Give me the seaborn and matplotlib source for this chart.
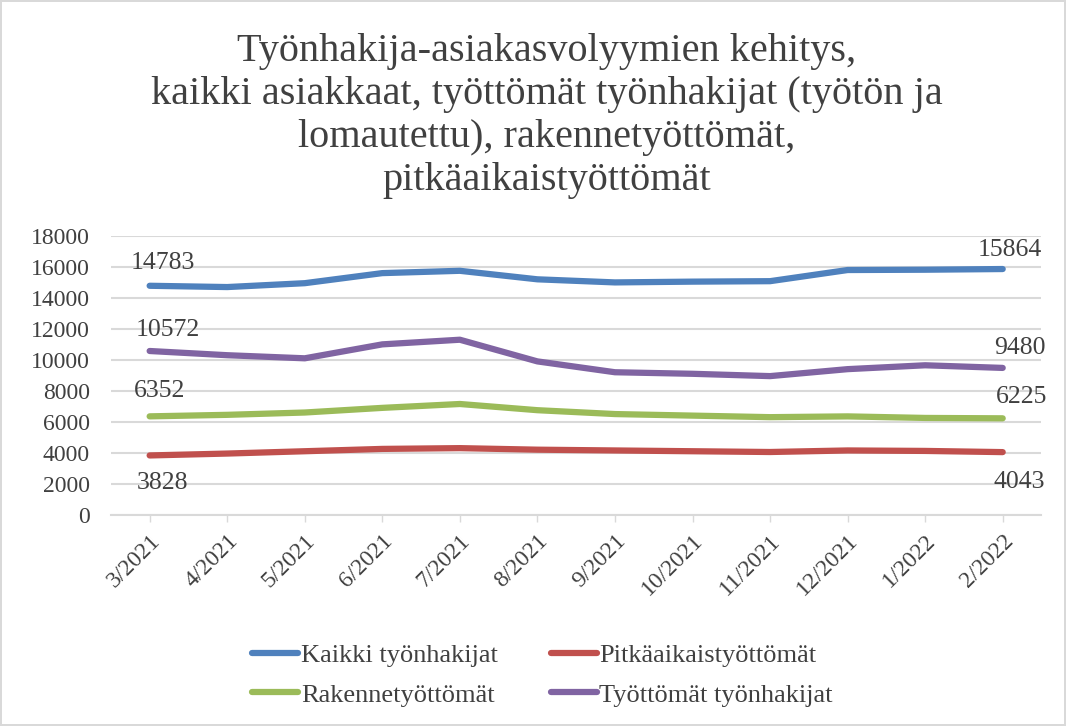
import seaborn as sns
import matplotlib.pyplot as plt
import pandas as pd

months = ['3/2021', '4/2021', '5/2021', '6/2021', '7/2021', '8/2021',
          '9/2021', '10/2021', '11/2021', '12/2021', '1/2022', '2/2022']

kaikki = [14783, 14700, 14950, 15600, 15750, 15200, 15000, 15050, 15080, 15800, 15820, 15864]
pitka = [3828, 3950, 4100, 4250, 4300, 4200, 4150, 4100, 4050, 4150, 4120, 4043]
rakenne = [6352, 6450, 6600, 6900, 7150, 6750, 6500, 6400, 6300, 6350, 6250, 6225]
tyottomat = [10572, 10300, 10100, 11000, 11300, 9900, 9200, 9100, 8950, 9400, 9650, 9480]

series = {
    'Kaikki työnhakijat': kaikki,
    'Pitkäaikaistyöttömät': pitka,
    'Rakennetyöttömät': rakenne,
    'Työttömät työnhakijat': tyottomat,
}
colors = {
    'Kaikki työnhakijat': '#4F81BD',
    'Pitkäaikaistyöttömät': '#C0504D',
    'Rakennetyöttömät': '#9BBB59',
    'Työttömät työnhakijat': '#8064A2',
}

rows = []
for name, vals in series.items():
    for i, (m, v) in enumerate(zip(months, vals)):
        rows.append({'idx': i, 'kk': m, 'sarja': name, 'arvo': v})
df = pd.DataFrame(rows)

sns.set_theme(style='white')
plt.rcParams['font.family'] = ['Liberation Serif', 'DejaVu Serif']
txt = '#404040'

fig = plt.figure(figsize=(10.66, 7.26), dpi=100)
fig.patch.set_edgecolor('#D9D9D9')
fig.patch.set_linewidth(1.5)
ax = fig.add_axes([0.104, 0.291, 0.873, 0.384])

sns.lineplot(data=df, x='idx', y='arvo', hue='sarja', palette=colors,
             linewidth=4.5, ax=ax, legend=False, solid_capstyle='round')

ax.set_xlim(-0.5, len(months) - 0.5)
ax.set_ylim(0, 18000)
ax.set_yticks(range(0, 18001, 2000))
ax.set_xticks(range(len(months)))
ax.set_xticklabels(months, rotation=45, ha='right', rotation_mode='anchor')
ax.tick_params(axis='y', labelsize=17, colors=txt, length=0, pad=15)
ax.tick_params(axis='x', labelsize=17, colors=txt, length=5, width=1,
               bottom=True, color='#D9D9D9', pad=6)
ax.yaxis.grid(True, color='#D9D9D9', linewidth=1.5)
ax.set_axisbelow(True)
for s in ['top', 'right', 'left']:
    ax.spines[s].set_visible(False)
ax.spines['bottom'].set_color('#D9D9D9')
ax.spines['bottom'].set_linewidth(1.5)
ax.set_xlabel('')
ax.set_ylabel('')

# data labels on first and last points (offsets in pixels)
last = len(months) - 1
offsets_first = {'Kaikki työnhakijat': (13, 23), 'Työttömät työnhakijat': (18, 21),
                 'Rakennetyöttömät': (10, 25), 'Pitkäaikaistyöttömät': (13, -28)}
offsets_last = {'Kaikki työnhakijat': (7, 19), 'Työttömät työnhakijat': (17, 20),
                'Rakennetyöttömät': (19, 21), 'Pitkäaikaistyöttömät': (17, -30)}
for name, vals in series.items():
    ax.annotate(str(vals[0]), (0, vals[0]), xytext=offsets_first[name],
                textcoords='offset pixels', ha='center', va='center',
                fontsize=18.5, color=txt)
    ax.annotate(str(vals[last]), (last, vals[last]), xytext=offsets_last[name],
                textcoords='offset pixels', ha='center', va='center',
                fontsize=18.5, color=txt)

fig.text(0.513, 0.84,
         'Työnhakija-asiakasvolyymien kehitys,\n'
         'kaikki asiakkaat, työttömät työnhakijat (työtön ja\n'
         'lomautettu), rakennetyöttömät,\n'
         'pitkäaikaistyöttömät',
         ha='center', va='center', fontsize=29, color=txt, linespacing=1.21)

handles = [plt.Line2D([], [], color=colors[n], linewidth=4.5, solid_capstyle='round')
           for n in ['Kaikki työnhakijat', 'Rakennetyöttömät',
                     'Pitkäaikaistyöttömät', 'Työttömät työnhakijat']]
labels = ['Kaikki työnhakijat', 'Rakennetyöttömät',
          'Pitkäaikaistyöttömät', 'Työttömät työnhakijat']
fig.legend(handles, labels, loc='center', bbox_to_anchor=(0.509, 0.07), ncol=2,
           frameon=False, fontsize=19, handlelength=1.75, handletextpad=0.1,
           columnspacing=2.0, labelspacing=0.6, labelcolor=txt)

fig.savefig('out.png', dpi=100)
